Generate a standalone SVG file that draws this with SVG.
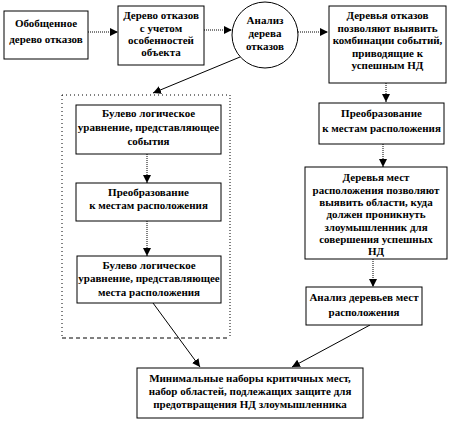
<svg xmlns="http://www.w3.org/2000/svg" width="450" height="422" viewBox="0 0 450 422">
<style>
.box{fill:#fff;stroke:#000;stroke-width:1}
.t{font-family:"Liberation Serif","Times New Roman",serif;font-weight:bold;font-size:11px;fill:#000;text-anchor:middle}
.dot{fill:none;stroke:#000;stroke-width:1;stroke-dasharray:1,1}
.sol{fill:none;stroke:#000;stroke-width:1}
</style>
<defs>
<marker id="ah" viewBox="0 0 10 10" refX="10" refY="5" markerWidth="8" markerHeight="8" markerUnits="userSpaceOnUse" orient="auto">
<path d="M0,0 L10,5 L0,10 Z" fill="#000"/>
</marker>
</defs>
<rect width="450" height="422" fill="#fff"/>
<g id="frame">
<line x1="62" y1="95" x2="230" y2="95" stroke="#000" stroke-width="1" stroke-dasharray="1,3"/>
<line x1="62" y1="95" x2="62" y2="338" stroke="#000" stroke-width="1" stroke-dasharray="1,3"/>
<line x1="230" y1="95" x2="230" y2="338" stroke="#000" stroke-width="1" stroke-dasharray="1,2"/>
<line x1="62" y1="338" x2="230" y2="338" stroke="#000" stroke-width="1" stroke-dasharray="4,3"/>
</g>
<g id="connectors">
<line class="dot" x1="88" y1="32" x2="118" y2="32" marker-end="url(#ah)"/>
<line class="dot" x1="204" y1="30" x2="232" y2="30" marker-end="url(#ah)"/>
<line class="dot" x1="298" y1="32" x2="328" y2="32" marker-end="url(#ah)"/>
<line class="sol" x1="240" y1="57" x2="153" y2="93" marker-end="url(#ah)"/>
<line class="dot" x1="386" y1="83" x2="386" y2="102" marker-end="url(#ah)"/>
<line class="dot" x1="383" y1="144" x2="383" y2="167" marker-end="url(#ah)"/>
<line class="dot" x1="373" y1="259" x2="373" y2="287" marker-end="url(#ah)"/>
<line class="dot" x1="147" y1="154" x2="147" y2="183" marker-end="url(#ah)"/>
<line class="dot" x1="147" y1="221" x2="147" y2="256" marker-end="url(#ah)"/>
<line class="sol" x1="153" y1="303" x2="200" y2="367" marker-end="url(#ah)"/>
<line class="sol" x1="370" y1="325" x2="292" y2="367" marker-end="url(#ah)"/>
</g>
<g id="n1">
<rect class="box" x="4" y="11" width="84" height="48"/>
<text class="t" x="46" y="27">Обобщенное</text>
<text class="t" x="46" y="43">дерево отказов</text>
</g>
<g id="n2">
<rect class="box" x="118" y="6" width="86" height="59"/>
<text class="t" x="161" y="19">Дерево отказов</text>
<text class="t" x="161" y="32">с учетом</text>
<text class="t" x="161" y="44">особенностей</text>
<text class="t" x="161" y="56">объекта</text>
</g>
<g id="n3">
<circle class="box" cx="265" cy="35" r="33"/>
<text class="t" x="265" y="24">Анализ</text>
<text class="t" x="265" y="37">дерева</text>
<text class="t" x="265" y="50">отказов</text>
</g>
<g id="n4">
<rect class="box" x="329" y="6" width="117" height="77"/>
<text class="t" x="387.5" y="19">Деревья отказов</text>
<text class="t" x="387.5" y="31.5">позволяют выявить</text>
<text class="t" x="387.5" y="44">комбинации событий,</text>
<text class="t" x="387.5" y="56.5">приводящие к</text>
<text class="t" x="387.5" y="69">успешным НД</text>
</g>
<g id="n5">
<rect class="box" x="319" y="103" width="125" height="41"/>
<text class="t" x="381.5" y="117">Преобразование</text>
<text class="t" x="381.5" y="132">к местам расположения</text>
</g>
<g id="n6">
<rect class="box" x="305" y="167" width="142" height="92"/>
<text class="t" x="376" y="181">Деревья мест</text>
<text class="t" x="376" y="193.5">расположения позволяют</text>
<text class="t" x="376" y="206">выявить области, куда</text>
<text class="t" x="376" y="218">должен проникнуть</text>
<text class="t" x="376" y="230.5">злоумышленник для</text>
<text class="t" x="376" y="243">совершения успешных</text>
<text class="t" x="376" y="255">НД</text>
</g>
<g id="n7">
<rect class="box" x="306" y="287" width="116" height="38"/>
<text class="t" x="364" y="301">Анализ деревьев мест</text>
<text class="t" x="364" y="316">расположения</text>
</g>
<g id="n8">
<rect class="box" x="76" y="105" width="145" height="49"/>
<text class="t" x="148.5" y="117">Булево логическое</text>
<text class="t" x="148.5" y="131">уравнение, представляющее</text>
<text class="t" x="148.5" y="145">события</text>
</g>
<g id="n9">
<rect class="box" x="76" y="183" width="145" height="38"/>
<text class="t" x="148.5" y="196">Преобразование</text>
<text class="t" x="148.5" y="209">к местам расположения</text>
</g>
<g id="n10">
<rect class="box" x="77" y="256" width="144" height="47"/>
<text class="t" x="149" y="269">Булево логическое</text>
<text class="t" x="149" y="282">уравнение, представляющее</text>
<text class="t" x="149" y="296">места расположения</text>
</g>
<g id="n11">
<rect class="box" x="137" y="368" width="226" height="50"/>
<text class="t" x="250" y="382">Минимальные наборы критичных мест,</text>
<text class="t" x="250" y="395">набор областей, подлежащих защите для</text>
<text class="t" x="250" y="408">предотвращения НД злоумышленника</text>
</g>
</svg>
